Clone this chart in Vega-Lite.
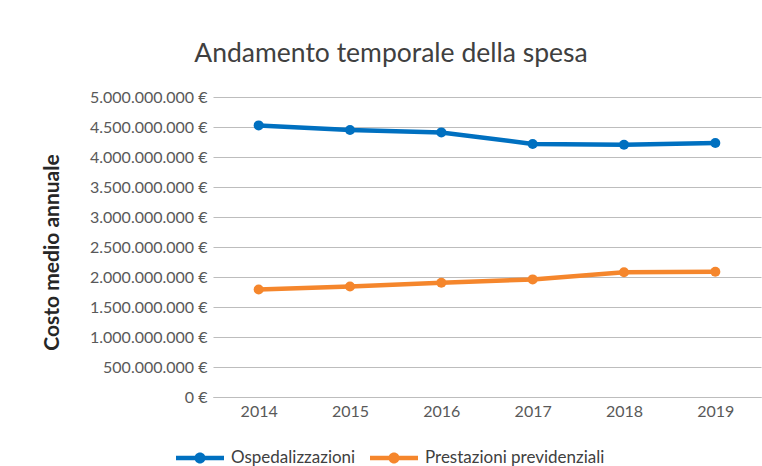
{
  "$schema": "https://vega.github.io/schema/vega-lite/v6.json",
  "width": 548,
  "height": 300,
  "autosize": {"type": "none"},
  "padding": {"left": 213, "top": 97, "right": 1, "bottom": 69},
  "background": "white",
  "title": {
    "text": "Andamento temporale della spesa",
    "anchor": "middle",
    "dx": -96,
    "fontSize": 26.5,
    "font": "Lato",
    "fontWeight": "normal",
    "color": "#404040",
    "offset": 22
  },
  "data": {
    "values": [
      {"anno": "2014", "serie": "Ospedalizzazioni", "costo": 4527000000},
      {"anno": "2015", "serie": "Ospedalizzazioni", "costo": 4450000000},
      {"anno": "2016", "serie": "Ospedalizzazioni", "costo": 4410000000},
      {"anno": "2017", "serie": "Ospedalizzazioni", "costo": 4217000000},
      {"anno": "2018", "serie": "Ospedalizzazioni", "costo": 4205000000},
      {"anno": "2019", "serie": "Ospedalizzazioni", "costo": 4233000000},
      {"anno": "2014", "serie": "Prestazioni previdenziali", "costo": 1793000000},
      {"anno": "2015", "serie": "Prestazioni previdenziali", "costo": 1843000000},
      {"anno": "2016", "serie": "Prestazioni previdenziali", "costo": 1905000000},
      {"anno": "2017", "serie": "Prestazioni previdenziali", "costo": 1960000000},
      {"anno": "2018", "serie": "Prestazioni previdenziali", "costo": 2080000000},
      {"anno": "2019", "serie": "Prestazioni previdenziali", "costo": 2088000000}
    ]
  },
  "encoding": {
    "x": {
      "field": "anno",
      "type": "ordinal",
      "scale": {"type": "point", "padding": 0.5},
      "axis": {
        "title": null,
        "labelAngle": 0,
        "labelFont": "Lato",
        "labelFontSize": 16,
        "labelColor": "#595959",
        "ticks": false,
        "domain": true,
        "domainColor": "#BDBDBD",
        "domainWidth": 1,
        "labelPadding": 6,
        "grid": false
      }
    },
    "y": {
      "field": "costo",
      "type": "quantitative",
      "scale": {"domain": [0, 5000000000], "nice": false},
      "axis": {
        "title": "Costo medio annuale",
        "titleFont": "Lato",
        "titleFontSize": 21,
        "titleFontWeight": "bold",
        "titleColor": "#262626",
        "titleX": -155,
        "titleY": 155,
        "titleAngle": 270,
        "titleAlign": "center",
        "titleBaseline": "alphabetic",
        "values": [0, 500000000, 1000000000, 1500000000, 2000000000, 2500000000, 3000000000, 3500000000, 4000000000, 4500000000, 5000000000],
        "labelExpr": "replace(format(datum.value, ','), regexp(',', 'g'), '.') + ' €'",
        "labelFont": "Lato",
        "labelFontSize": 16,
        "labelColor": "#595959",
        "labelPadding": 6,
        "ticks": false,
        "domain": false,
        "grid": true,
        "gridColor": "#BDBDBD",
        "gridWidth": 1
      }
    },
    "color": {
      "field": "serie",
      "type": "nominal",
      "scale": {"domain": ["Ospedalizzazioni", "Prestazioni previdenziali"], "range": ["#0070C0", "#F5862C"]},
      "legend": {
        "orient": "none",
        "legendX": -37,
        "legendY": 337,
        "direction": "horizontal",
        "title": null,
        "symbolType": "M-1,-0.094H1V0.094H-1Z M-0.23,0A0.23,0.23 0 1,1 0.23,0A0.23,0.23 0 1,1 -0.23,0Z",
        "symbolSize": 2304,
        "symbolStrokeWidth": 0,
        "symbolOpacity": 1,
        "labelFont": "Lato",
        "labelFontSize": 17,
        "labelColor": "#404040",
        "labelOffset": 7,
        "labelLimit": 400,
        "columnPadding": 14,
        "encode": {
          "symbols": {
            "update": {
              "fill": {"scale": "color", "field": "value"},
              "stroke": {"value": "transparent"},
              "shape": {"value": "M-1,-0.094H1V0.094H-1Z M-0.23,0A0.23,0.23 0 1,1 0.23,0A0.23,0.23 0 1,1 -0.23,0Z"},
              "size": {"value": 2304},
              "opacity": {"value": 1}
            }
          }
        }
      }
    }
  },
  "layer": [
    {
      "mark": {"type": "line", "strokeWidth": 4.5}
    },
    {
      "mark": {"type": "point", "filled": true, "size": 100, "opacity": 1}
    }
  ],
  "config": {"view": {"stroke": null}}
}
